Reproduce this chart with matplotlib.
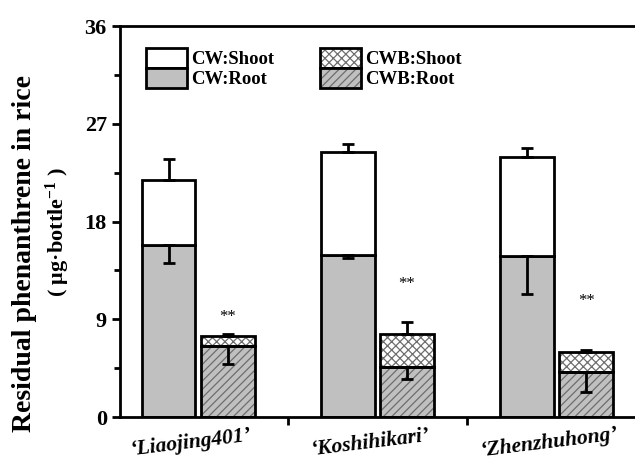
import matplotlib
matplotlib.use("Agg")
import matplotlib.pyplot as plt
import numpy as np
from matplotlib.patches import Patch
from matplotlib.legend_handler import HandlerTuple

plt.rcParams['font.family'] = ['Liberation Serif', 'DejaVu Serif']
plt.rcParams['font.weight'] = 'bold'
plt.rcParams['mathtext.fontset'] = 'custom'
plt.rcParams['mathtext.rm'] = 'Liberation Serif:bold'
plt.rcParams['mathtext.it'] = 'Liberation Serif:bold:italic'
plt.rcParams['mathtext.bf'] = 'Liberation Serif:bold'
plt.rcParams['hatch.linewidth'] = 0.9

cultivars = ["\u2018Liaojing401\u2019", "\u2018Koshihikari\u2019", "\u2018Zhenzhuhong\u2019"]
cw_root = [15.8, 14.9, 14.8]
cw_shoot = [6.0, 9.5, 9.1]
cw_root_err = [1.6, 0.3, 3.5]
cw_shoot_err = [2.0, 0.7, 0.9]
cwb_root = [6.5, 4.6, 4.1]
cwb_shoot = [0.95, 3.0, 1.9]
cwb_root_err = [1.6, 1.1, 1.8]
cwb_shoot_err = [0.15, 1.15, 0.2]
star_y = [9.2, 12.2, 10.7]

x = np.arange(1, len(cultivars) + 1)
w = 0.30
off = 0.165
gray = '#c0c0c0'
hatch_col = '#6e6e6e'

fig = plt.figure(figsize=(6.35, 4.62), dpi=100)
ax = fig.add_axes([0.189, 0.0974, 0.812, 0.8463])

cw_tot = np.array(cw_root) + np.array(cw_shoot)
cwb_tot = np.array(cwb_root) + np.array(cwb_shoot)

# CW bars
ax.bar(x - off, cw_root, w, color=gray, edgecolor='black', linewidth=2, zorder=2)
ax.bar(x - off, cw_shoot, w, bottom=cw_root, color='white', edgecolor='black', linewidth=2, zorder=2)

# CWB bars: hatched fill first, then black outline
ax.bar(x + off, cwb_root, w, color=gray, edgecolor=hatch_col, hatch='////', linewidth=0, zorder=2)
ax.bar(x + off, cwb_shoot, w, bottom=cwb_root, color='white', edgecolor=hatch_col, hatch='xxxx', linewidth=0, zorder=2)
ax.bar(x + off, cwb_root, w, fill=False, edgecolor='black', linewidth=2, zorder=3)
ax.bar(x + off, cwb_shoot, w, bottom=cwb_root, fill=False, edgecolor='black', linewidth=2, zorder=3)

ekw = dict(fmt='none', ecolor='black', elinewidth=2, capsize=4, capthick=2, zorder=4)
z = np.zeros(len(x))
ax.errorbar(x - off, cw_tot, yerr=[z, cw_shoot_err], **ekw)
ax.errorbar(x - off, cw_root, yerr=[cw_root_err, z], **ekw)
ax.errorbar(x + off, cwb_tot, yerr=[z, cwb_shoot_err], **ekw)
ax.errorbar(x + off, cwb_root, yerr=[cwb_root_err, z], **ekw)

for xi, sy in zip(x, star_y):
    ax.text(xi + off, sy, '**', ha='center', va='center', fontsize=12, fontweight='normal')

ax.set_xlim(0.564, 3.441)
ax.set_ylim(0, 36)
ax.set_yticks([0, 9, 18, 27, 36])
ax.set_yticks(np.arange(4.5, 36, 9), minor=True)
ax.set_xticks([1.5, 2.5])
ax.set_xticklabels([])
ax.tick_params(axis='y', which='major', labelsize=16, width=2, length=6, direction='out')
ax.tick_params(axis='y', which='minor', width=2, length=4, direction='out')
ax.tick_params(axis='x', which='major', width=2, length=6, direction='out')
for s in ['left', 'bottom', 'top']:
    ax.spines[s].set_linewidth(2)
ax.spines['right'].set_visible(False)

for xi, lab in zip(x, cultivars):
    ax.text(xi - 0.04, -2.4, lab, ha='center', va='center', fontsize=15.5,
            fontstyle='italic', fontweight='bold', rotation=7, transform=ax.transData)

# y label: two lines of different size
fig.text(25 / 635, 1 - 254 / 462, 'Residual phenanthrene in rice', rotation=90,
         ha='center', va='center', fontsize=20, fontweight='bold')
fig.text(58 / 635, 1 - 232 / 462, '( \u03bcg\u00b7bottle$^{-1}$ )', rotation=90,
         ha='center', va='center', fontsize=16, fontweight='bold')

h_cw_shoot = Patch(facecolor='white', edgecolor='black', linewidth=2)
h_cw_root = Patch(facecolor=gray, edgecolor='black', linewidth=2)
h_cwb_shoot = (Patch(facecolor='white', edgecolor=hatch_col, hatch='xxxx', linewidth=0),
               Patch(fill=False, edgecolor='black', linewidth=2))
h_cwb_root = (Patch(facecolor=gray, edgecolor=hatch_col, hatch='////', linewidth=0),
              Patch(fill=False, edgecolor='black', linewidth=2))
ax.legend([h_cw_shoot, h_cw_root, h_cwb_shoot, h_cwb_root],
          ['CW:Shoot', 'CW:Root', 'CWB:Shoot', 'CWB:Root'],
          handler_map={tuple: HandlerTuple(ndivide=1)},
          ncol=2, loc='upper left', bbox_to_anchor=(0.035, 0.962), frameon=False,
          prop={'size': 13.5, 'weight': 'bold'}, handlelength=2.2, handleheight=1.2,
          labelspacing=0.0, handletextpad=0.25, columnspacing=2.4, borderaxespad=0)

fig.savefig('out.png', dpi=100)
